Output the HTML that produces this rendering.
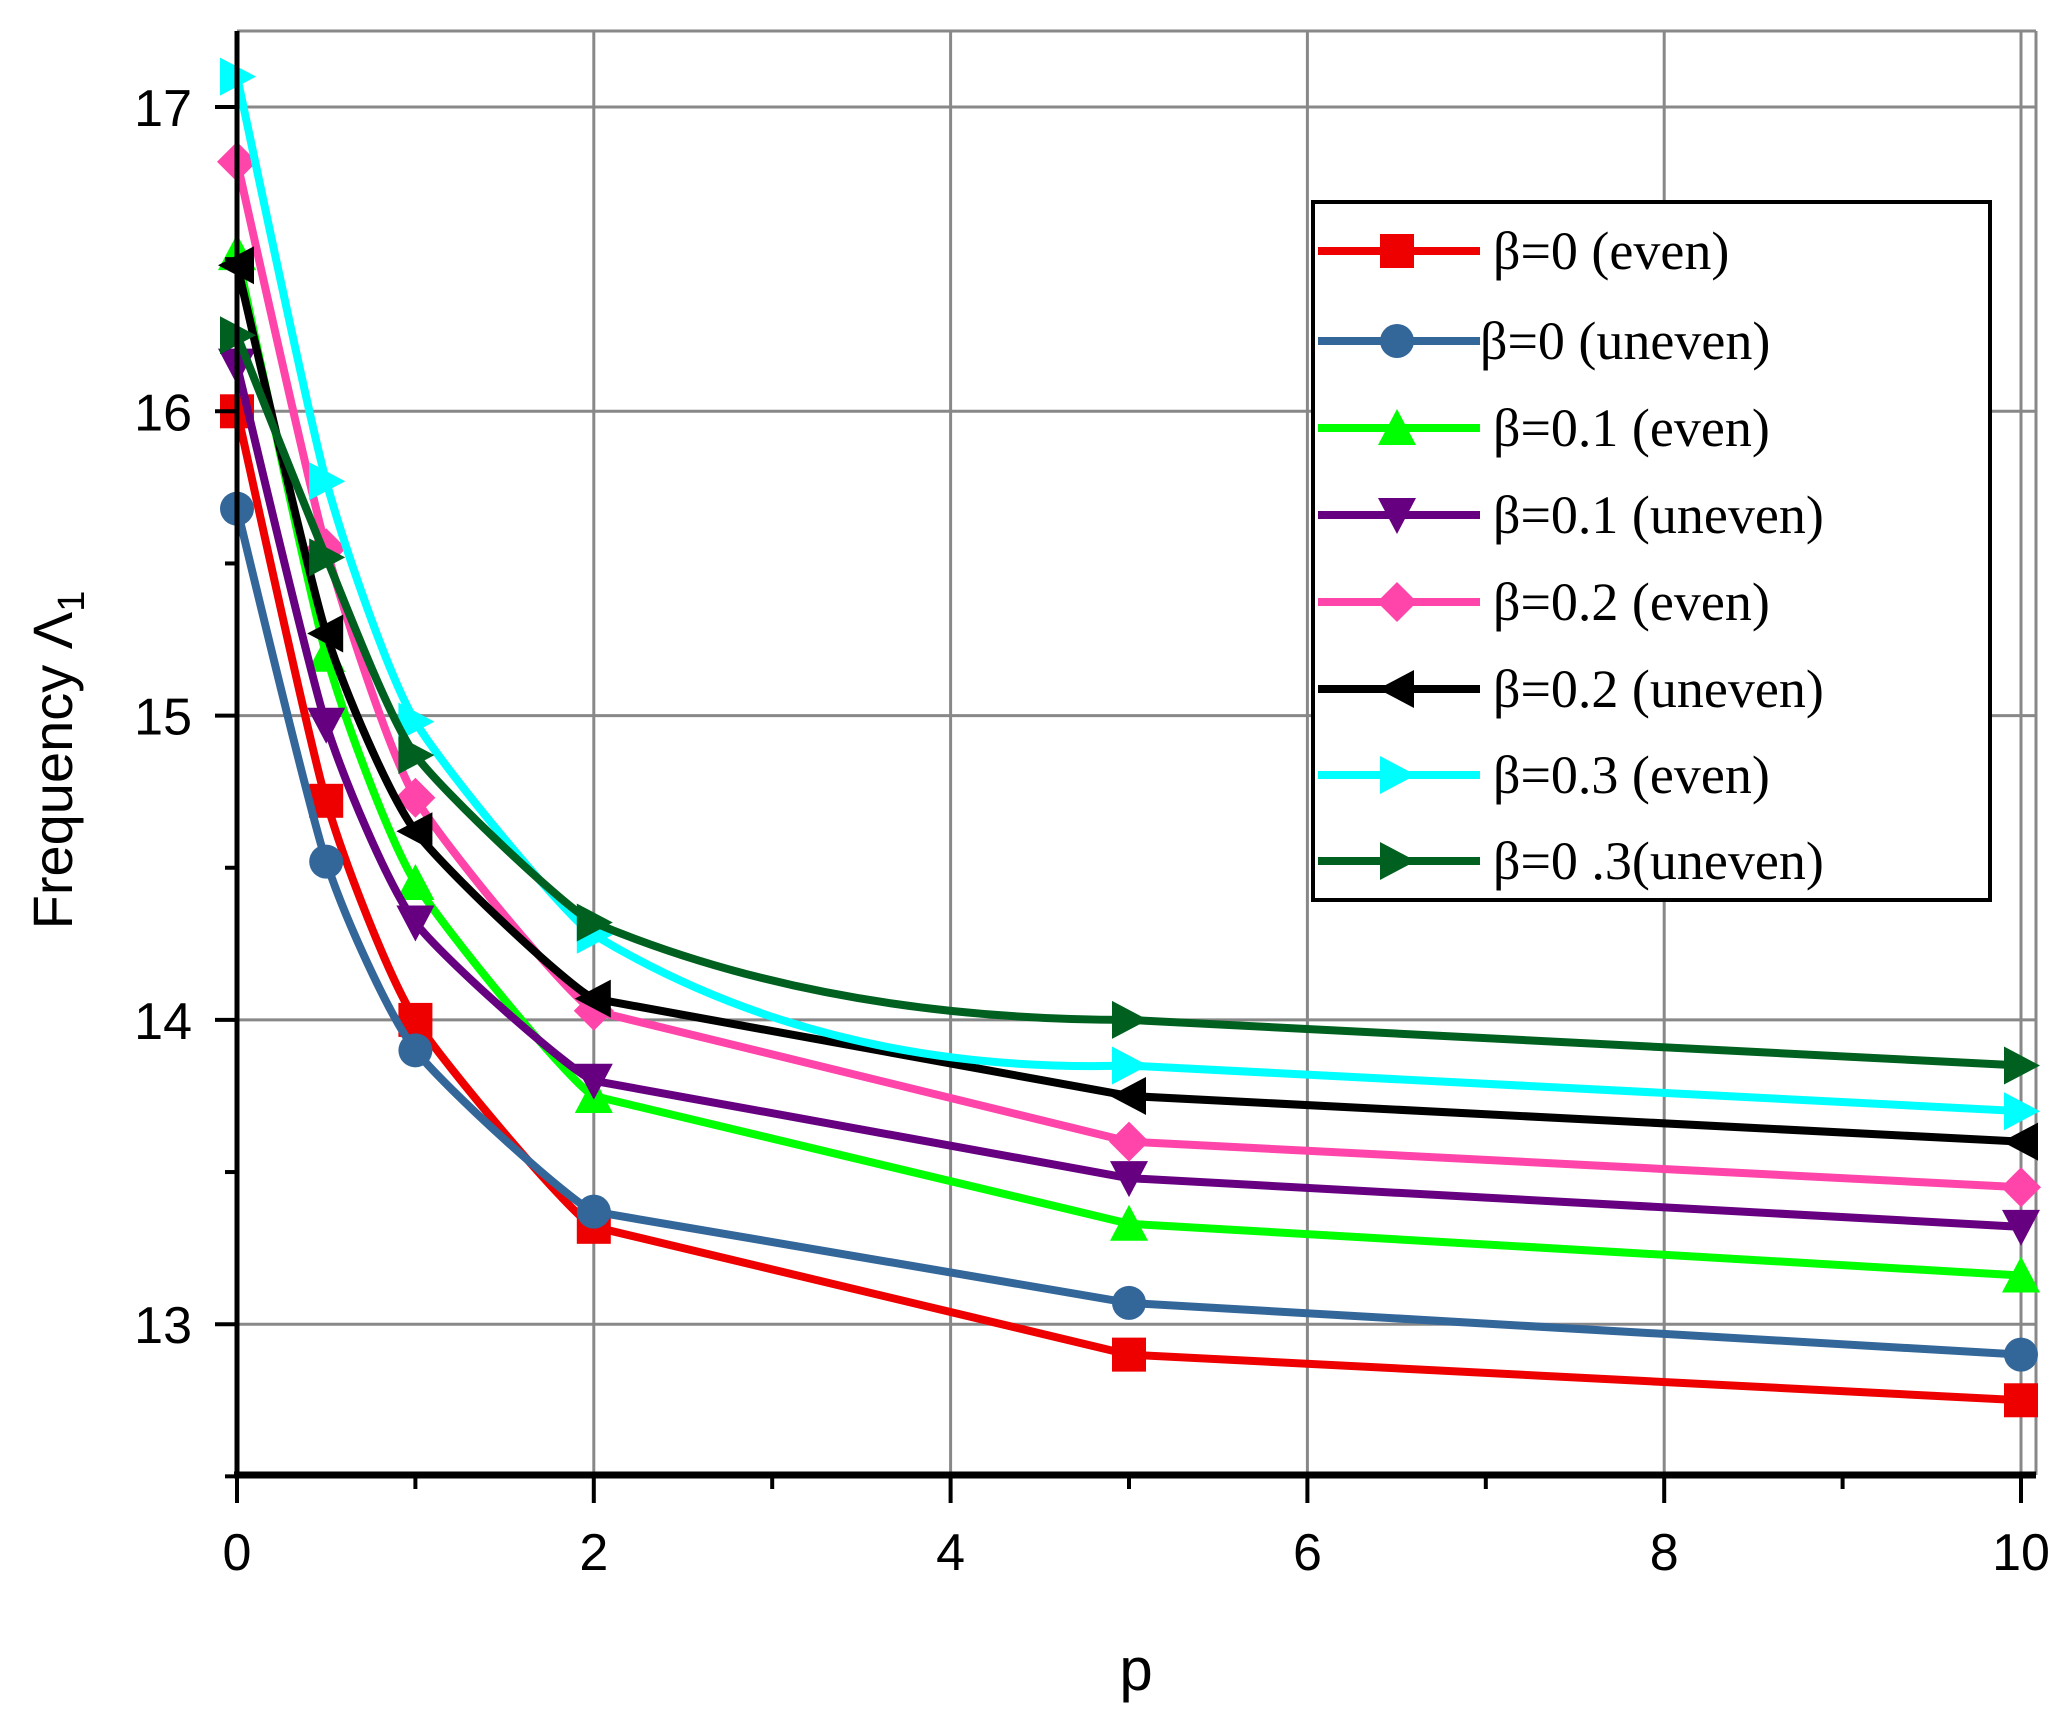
<!DOCTYPE html>
<html><head><meta charset="utf-8"><style>
html,body{margin:0;padding:0;background:#fff;}
svg{display:block;}
</style></head><body>
<svg id="s" width="2069" height="1720" xmlns="http://www.w3.org/2000/svg">
<rect width="2069" height="1720" fill="#fff"/>
<g id="grid" stroke="#888" stroke-width="3"></g>
<g id="series"></g>
<g id="axes"></g>
<g id="legend"></g>
<text x="1136" y="1690" font-family="Liberation Sans, sans-serif" font-size="60" text-anchor="middle">p</text>
<text transform="translate(72,760) rotate(-90)" font-family="Liberation Sans, sans-serif" font-size="56" text-anchor="middle">Frequency Λ<tspan font-size="38" dy="12">1</tspan></text>
</svg>
<script>
const NS="http://www.w3.org/2000/svg";
const X=p=>237+p*178.4, Y=v=>107+(17-v)*304.3;
const L=237,R=2036,T=31,B=1475;
function el(t,a,par){const e=document.createElementNS(NS,t);for(const k in a)e.setAttribute(k,a[k]);document.getElementById(par).appendChild(e);return e;}
for(let p=2;p<=10;p+=2) el('line',{x1:X(p),x2:X(p),y1:T,y2:B},'grid');
for(let v=13;v<=17;v++) el('line',{x1:L,x2:R,y1:Y(v),y2:Y(v)},'grid');
el('line',{x1:R,x2:R,y1:T,y2:B},'grid');
el('line',{x1:L,x2:R,y1:T,y2:T},'grid');
el('line',{x1:L,x2:L,y1:T,y2:B+3,stroke:'#000','stroke-width':5},'axes');
el('line',{x1:L-3,x2:R,y1:B,y2:B,stroke:'#000','stroke-width':7},'axes');
for(let p=0;p<=10;p++){const maj=p%2==0;el('line',{x1:X(p),x2:X(p),y1:B,y2:B+(maj?28:14),stroke:'#000','stroke-width':4},'axes');
 if(maj){const t=el('text',{x:X(p),y:1570,'font-family':'Liberation Sans, sans-serif','font-size':52,'text-anchor':'middle'},'axes');t.textContent=p;}}
for(let v=12.5;v<=17;v+=0.5){const maj=Number.isInteger(v);el('line',{x1:L-(maj?22:12),x2:L,y1:Y(v),y2:Y(v),stroke:'#000','stroke-width':4},'axes');
 if(maj){const t=el('text',{x:192,y:Y(v)+19,'font-family':'Liberation Sans, sans-serif','font-size':52,'text-anchor':'end'},'axes');t.textContent=v;}}
const P=[0,0.5,1,2,5,10];
const S=[
['#ee0000','sq',[16.0,14.72,14.0,13.32,12.9,12.75],'β=0 (even)',null],
['#336699','ci',[15.68,14.52,13.9,13.37,13.07,12.9],'β=0 (uneven)',null],
['#00ff00','up',[16.52,15.2,14.45,13.75,13.33,13.16],'β=0.1 (even)',null],
['#660080','dn',[16.15,14.97,14.32,13.8,13.48,13.32],'β=0.1 (uneven)',null],
['#ff44aa','di',[16.82,15.55,14.73,14.03,13.6,13.45],'β=0.2 (even)',null],
['#000000','lt',[16.48,15.27,14.62,14.07,13.75,13.6],'β=0.2 (uneven)',null],
['#00ffff','rt',[17.1,15.77,14.98,14.28,13.85,13.7],'β=0.3 (even)',[3.3,13.82]],
['#006020','rt',[16.25,15.52,14.87,14.32,14.0,13.85],'β=0 .3(uneven)',[3.3,14.0]]];
function marker(type,x,y,c,par){const s=17;let d;
 if(type=='sq')return el('rect',{x:x-s,y:y-s,width:2*s,height:2*s,fill:c},par);
 if(type=='ci')return el('circle',{cx:x,cy:y,r:s,fill:c},par);
 if(type=='up')d=`M${x},${y-s-2}L${x+s+2},${y+s}L${x-s-2},${y+s}Z`;
 if(type=='dn')d=`M${x},${y+s+2}L${x+s+2},${y-s}L${x-s-2},${y-s}Z`;
 if(type=='di')d=`M${x},${y-s-3}L${x+s+3},${y}L${x},${y+s+3}L${x-s-3},${y}Z`;
 if(type=='lt')d=`M${x-s-2},${y}L${x+s},${y-s-2}L${x+s},${y+s+2}Z`;
 if(type=='rt')d=`M${x+s+2},${y}L${x-s},${y-s-2}L${x-s},${y+s+2}Z`;
 return el('path',{d:d,fill:c},par);}
S.forEach((s,i)=>{const pts=P.map((p,j)=>[X(p),Y(s[2][j])]);
 let d=`M${pts[0][0]},${pts[0][1]}`;
 for(let k=0;k<pts.length-1;k++){const p0=pts[Math.max(k-1,0)],p1=pts[k],p2=pts[k+1],p3=pts[Math.min(k+2,pts.length-1)];
  if(k>=4){d+=`L${p2[0]},${p2[1]}`;continue;}
  if(k==3){ if(s[4]) d+=`Q${X(s[4][0])},${Y(s[4][1])} ${p2[0]},${p2[1]}`; else d+=`L${p2[0]},${p2[1]}`; continue;}
  const t=0.1;
  const t2=k==2?0.03:t;
  d+=`C${p1[0]+(p2[0]-p0[0])*t},${p1[1]+(p2[1]-p0[1])*t} ${p2[0]-(p3[0]-p1[0])*t2},${p2[1]-(p3[1]-p1[1])*t2} ${p2[0]},${p2[1]}`;}
 el('path',{d:d,fill:'none',stroke:s[0],'stroke-width':8,'stroke-linejoin':'round'},'series');
 pts.forEach(q=>marker(s[1],q[0],q[1],s[0],'series'));
});
el('rect',{x:1313,y:202,width:677,height:698,fill:'#fff',stroke:'#000','stroke-width':4},'legend');
const LY=[251,341,428,515,602,689,775,861];
S.forEach((s,i)=>{const y=LY[i];
 el('line',{x1:1318,x2:1480,y1:y,y2:y,stroke:s[0],'stroke-width':8},'legend');
 marker(s[1],1397,y,s[0],'legend');
 const t=el('text',{x:i==1?1480:1493,y:y+18,'font-family':'Liberation Serif, serif','font-size':54},'legend');t.textContent=s[3];});
</script>
</body></html>
